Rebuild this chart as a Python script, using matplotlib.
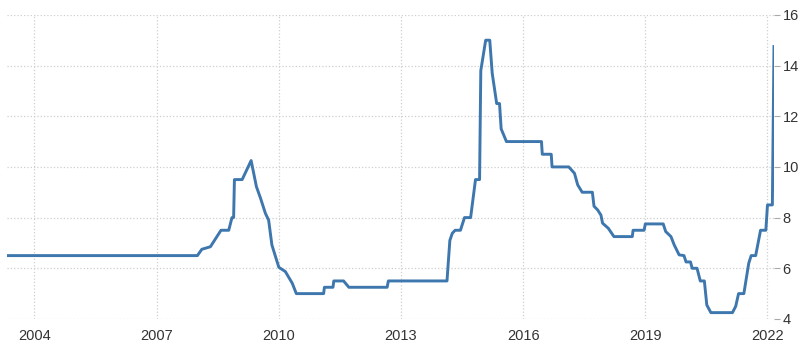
import matplotlib
matplotlib.use("Agg")
import matplotlib.pyplot as plt

plt.rcParams['font.family'] = ['Liberation Sans Narrow', 'Liberation Sans', 'DejaVu Sans']

# decimal years and rate values (%)
years = [
    2003.33, 2008.00, 2008.11, 2008.32, 2008.40, 2008.48, 2008.58, 2008.77,
    2008.85, 2008.89, 2008.91, 2009.10, 2009.32, 2009.45, 2009.55, 2009.67,
    2009.75, 2009.83, 2010.00, 2010.16, 2010.33, 2010.43, 2011.10, 2011.12,
    2011.33, 2011.35, 2011.59, 2011.72, 2012.66, 2012.69, 2014.13, 2014.20,
    2014.26, 2014.33, 2014.46, 2014.56, 2014.71, 2014.83, 2014.93, 2014.96,
    2015.08, 2015.18, 2015.24, 2015.35, 2015.42, 2015.46, 2015.59, 2016.45,
    2016.47, 2016.69, 2016.71, 2017.12, 2017.26, 2017.34, 2017.45, 2017.70,
    2017.74, 2017.83, 2017.91, 2017.95, 2018.09, 2018.23, 2018.68, 2018.70,
    2018.97, 2019.00, 2019.44, 2019.50, 2019.63, 2019.71, 2019.83, 2019.95,
    2020.00, 2020.11, 2020.15, 2020.27, 2020.35, 2020.45, 2020.51, 2020.61,
    2021.14, 2021.22, 2021.29, 2021.42, 2021.54, 2021.60, 2021.71, 2021.83,
    2021.96, 2022.00, 2022.12, 2022.16,
]
rates = [
    6.5, 6.5, 6.75, 6.85, 7.05, 7.25, 7.5, 7.5,
    8.0, 8.0, 9.5, 9.5, 10.25, 9.22, 8.77, 8.17,
    7.9, 6.92, 6.04, 5.87, 5.41, 5.0, 5.0, 5.25,
    5.25, 5.5, 5.5, 5.25, 5.25, 5.5, 5.5, 7.1,
    7.38, 7.5, 7.5, 8.0, 8.0, 9.5, 9.5, 13.8,
    15.0, 15.0, 13.7, 12.5, 12.5, 11.5, 11.0, 11.0,
    10.5, 10.5, 10.0, 10.0, 9.75, 9.29, 9.0, 9.0,
    8.45, 8.3, 8.1, 7.78, 7.58, 7.25, 7.25, 7.5,
    7.5, 7.75, 7.75, 7.45, 7.25, 6.92, 6.53, 6.5,
    6.25, 6.25, 6.0, 6.0, 5.5, 5.5, 4.55, 4.25,
    4.25, 4.5, 5.0, 5.0, 6.2, 6.5, 6.5, 7.5,
    7.5, 8.5, 8.5, 14.75,
]
xticks = [2004, 2007, 2010, 2013, 2016, 2019, 2022]
yticks = [4, 6, 8, 10, 12, 14, 16]

fig = plt.figure(figsize=(8, 3.54), dpi=100)
ax = fig.add_axes([0.009, 0.099, 0.959, 0.859])

ax.plot(years, rates, color='#3d77ad', lw=2.1, solid_joinstyle='round')

ax.set_xlim(2003.33, 2022.17)
ax.set_ylim(4, 16)
ax.set_xticks(xticks)
ax.set_xticklabels([str(t) for t in xticks])
ax.set_yticks(yticks)

ax.yaxis.tick_right()
ax.grid(True, color='#cfcfcf', linestyle=':', linewidth=0.9)
for s in ax.spines.values():
    s.set_visible(False)
ax.tick_params(axis='y', length=4, color='#aaaaaa', labelsize=10.5,
               labelcolor='#333333', pad=2)
ax.tick_params(axis='x', length=0, labelsize=10.5, labelcolor='#333333', pad=7)

fig.savefig('out.png', dpi=100)
